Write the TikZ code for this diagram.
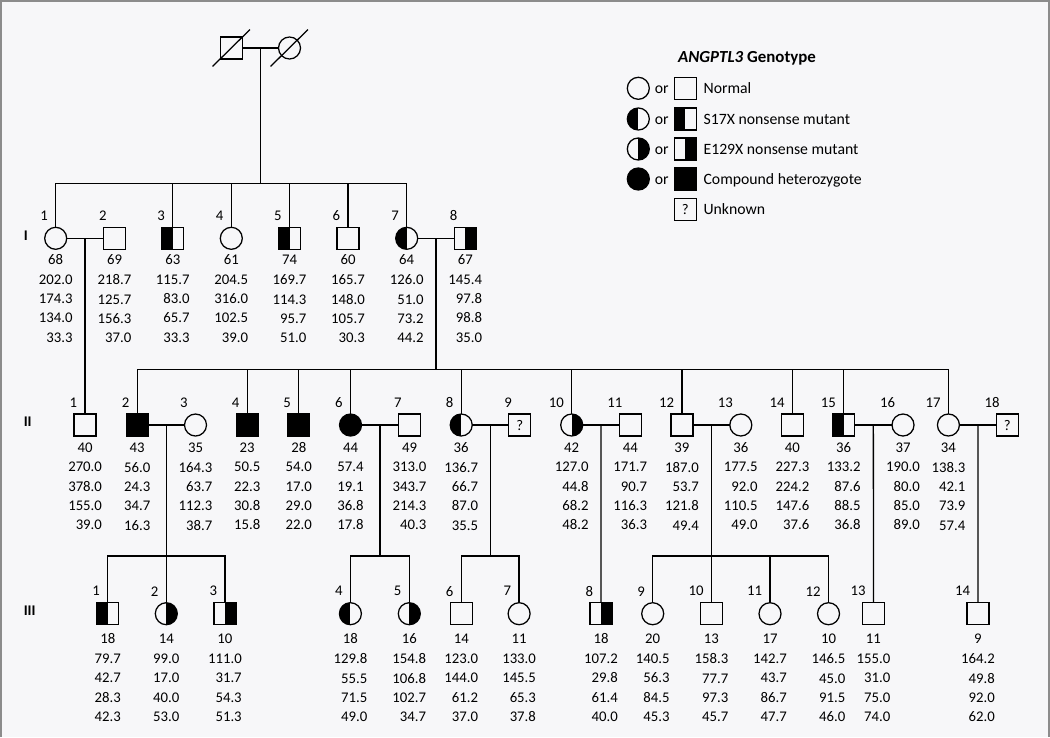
\documentclass[tikz,border=0pt]{standalone}
\usepackage{fontspec}
\setmainfont{Carlito}
\usetikzlibrary{calc}
\definecolor{bgc}{HTML}{F7F7F9}
\definecolor{frm}{HTML}{8C8C8C}
\tikzset{
  sym/.style={draw, line width=0.9pt, inner sep=0pt, minimum size=0.55cm},
  mal/.style={sym, rectangle},
  fem/.style={sym, circle},
  hl/.style={path picture={\fill (path picture bounding box.south west) rectangle (path picture bounding box.north);}},
  hr/.style={path picture={\fill (path picture bounding box.south) rectangle (path picture bounding box.north east);}},
  mN/.style={mal}, fN/.style={fem},
  mS/.style={mal,hl}, fS/.style={fem,hl},
  mE/.style={mal,hr}, fE/.style={fem,hr},
  mC/.style={mal,fill=black}, fC/.style={fem,fill=black},
  txt/.style={inner sep=0pt, font=\fontsize{10.5}{13.7}\selectfont},
  lgd/.style={inner sep=0pt, font=\fontsize{11.2}{13.7}\selectfont},
  mU/.style={mal, txt},
  vals/.style={txt, align=right, anchor=north},
  ln/.style={line width=0.9pt, line cap=rect},
}

\begin{document}
\begin{tikzpicture}[x=0.025cm, y=-0.025cm]
\useasboundingbox (0,0) rectangle (1050,737);
\fill[bgc] (0,0) rectangle (1050,737);
\draw[frm, line width=1.7pt] (1.2,737) -- (1.2,1.2) -- (1048.8,1.2) -- (1048.8,737);

% legend
\node[lgd, font=\fontsize{12}{14}\selectfont\bfseries] (lgT) at (747,58.3) {\textit{ANGPTL3} Genotype};
\foreach \r/\y/\cs/\ss/\t in {1/88.3/fN/mN/Normal, 2/119/fS/mS/S17X nonsense mutant, 3/149/fE/mE/E129X nonsense mutant, 4/179/fC/mC/Compound heterozygote}{
  \node[\cs] (lgc\r) at (638.3,\y) {};
  \node[lgd, anchor=base] (lgo\r) at (661.7,\y+5) {or};
  \node[\ss] (lgs\r) at (685.3,\y) {};
  \node[lgd, anchor=base west] (lgt\r) at (703.3,\y+5) {\t};
}
\node[mU] (lgs5) at (685.3,209.3) {?};
\node[lgd, anchor=base west] (lgt5) at (703.3,214.3) {Unknown};

% generations
\node[txt, font=\fontsize{10.5}{13.7}\selectfont\bfseries, anchor=west] (gI) at (23.5,236) {I};
\node[txt, font=\fontsize{10.5}{13.7}\selectfont\bfseries, anchor=west] (gII) at (23.5,422) {II};
\node[txt, font=\fontsize{10.5}{13.7}\selectfont\bfseries, anchor=west] (gIII) at (23.5,611) {III};

% grandparents
\node[mN] (GPm) at (231.5,48) {};
\node[fN] (GPf) at (289.5,48) {};
\draw[ln] ([shift={(-18.5,18)}]GPm.center) -- ([shift={(18,-18)}]GPm.center);
\draw[ln] ([shift={(-18.5,18)}]GPf.center) -- ([shift={(18,-18)}]GPf.center);

% generation I
\foreach \id/\x/\st/\nr/\ag/\va/\vb/\vc/\vd in {
  I1/55.7/fN/1/68/202.0/174.3/134.0/33.3,
  I2/114.5/mN/2/69/218.7/125.7/156.3/37.0,
  I3/172.8/mS/3/63/115.7/83.0/65.7/33.3,
  I4/231.3/fN/4/61/204.5/316.0/102.5/39.0,
  I5/289.5/mS/5/74/169.7/114.3/95.7/51.0,
  I6/348.0/mN/6/60/165.7/148.0/105.7/30.3,
  I7/406.7/fS/7/64/126.0/51.0/73.2/44.2,
  I8/465.3/mE/8/67/145.4/97.8/98.8/35.0}{
  \node[\st] (\id) at (\x,238.3) {};
  \node[txt, anchor=east] (n\id) at ([shift={(4,-22.5)}]\id.west) {\nr};
  \node[txt] (a\id) at (\x,260) {\ag};
  \node[vals] (v\id) at (\x,274.6) {\va\\\vb\\\vc\\\vd};
}

% generation II
\foreach \id/\x/\st/\nr/\ag/\va/\vb/\vc/\vd in {
  II1/85.1/mN/1/40/270.0/378.0/155.0/39.0,
  II2/137.2/mC/2/43/56.0/24.3/34.7/16.3,
  II3/195.5/fN/3/35/164.3/63.7/112.3/38.7,
  II4/247.2/mC/4/23/50.5/22.3/30.8/15.8,
  II5/298.8/mC/5/28/54.0/17.0/29.0/22.0,
  II6/350.5/fC/6/44/57.4/19.1/36.8/17.8,
  II7/409.5/mN/7/49/313.0/343.7/214.3/40.3,
  II8/461.2/fS/8/36/136.7/66.7/87.0/35.5,
  II10/571.7/fE/10/42/127.0/44.8/68.2/48.2,
  II11/630.3/mN/11/44/171.7/90.7/116.3/36.3,
  II12/681.9/mN/12/39/187.0/53.7/121.8/49.4,
  II13/740.8/fN/13/36/177.5/92.0/110.5/49.0,
  II14/792.4/mN/14/40/227.3/224.2/147.6/37.6,
  II15/843.7/mS/15/36/133.2/87.6/88.5/36.8,
  II16/903.0/fN/16/37/190.0/80.0/85.0/89.0,
  II17/948.4/fN/17/34/138.3/42.1/73.9/57.4}{
  \node[\st] (\id) at (\x,425) {};
  \node[txt, anchor=east] (n\id) at ([shift={(4,-22.5)}]\id.west) {\nr};
  \node[txt] (a\id) at (\x,447.7) {\ag};
  \node[vals] (v\id) at (\x,462) {\va\\\vb\\\vc\\\vd};
}
\foreach \id/\x/\nr in {II9/519.8/9, II18/1007.4/18}{
  \node[mU] (\id) at (\x,425) {?};
  \node[txt, anchor=east] (n\id) at ([shift={(4,-22.5)}]\id.west) {\nr};
}

% generation III
\foreach \id/\x/\st/\nr/\ag/\va/\vb/\vc/\vd in {
  III1/107.8/mS/1/18/79.7/42.7/28.3/42.3,
  III2/166.3/fE/2/14/99.0/17.0/40.0/53.0,
  III3/224.9/mE/3/10/111.0/31.7/54.3/51.3,
  III4/350.4/fS/4/18/129.8/55.5/71.5/49.0,
  III5/409.3/fE/5/16/154.8/106.8/102.7/34.7,
  III6/461.3/mN/6/14/123.0/144.0/61.2/37.0,
  III7/519.1/fN/7/11/133.0/145.5/65.3/37.8,
  III8/601.0/mE/8/18/107.2/29.8/61.4/40.0,
  III9/652.7/fN/9/20/140.5/56.3/84.5/45.3,
  III10/711.4/mN/10/13/158.3/77.7/97.3/45.7,
  III11/770.0/fN/11/17/142.7/43.7/86.7/47.7,
  III12/828.5/fN/12/10/146.5/45.0/91.5/46.0,
  III13/873.4/mN/13/11/155.0/31.0/75.0/74.0,
  III14/977.9/mN/14/9/164.2/49.8/92.0/62.0}{
  \node[\st] (\id) at (\x,613.7) {};
  \node[txt, anchor=east] (n\id) at ([shift={(4,-22.5)}]\id.west) {\nr};
  \node[txt] (a\id) at (\x,638.3) {\ag};
  \node[vals] (v\id) at (\x,653.6) {\va\\\vb\\\vc\\\vd};
}

% sibship levels
\coordinate (sI) at (0,183.3);
\coordinate (sII) at (0,369.5);
\coordinate (sIII) at (0,556);

% marriages
\foreach \p/\q/\m in {GPm/GPf/mGP, I1/I2/mI12, I7/I8/mI78, II2/II3/mII23, II6/II7/mII67, II8/II9/mII89, II10/II11/mIIa, II12/II13/mIIb, II15/II16/mIIc, II17/II18/mIId}{
  \draw[ln] (\p) -- (\q);
  \coordinate (\m) at ($(\p)!0.5!(\q)$);
}

% descent
\draw[ln] (mGP) -- (mGP |- sI);
\draw[ln] (I1 |- sI) -- (I7 |- sI);
\foreach \c in {I1,I3,I4,I5,I6,I7} \draw[ln] (\c |- sI) -- (\c.north);

\draw[ln] (mI12) -- (II1.north);
\draw[ln] (mI78) -- (mI78 |- sII);
\draw[ln] (II2 |- sII) -- (II17 |- sII);
\foreach \c in {II2,II4,II5,II6,II8,II10,II12,II14,II15,II17} \draw[ln] (\c |- sII) -- (\c.north);

\foreach \m in {mII23,mII67,mII89,mIIb} \draw[ln] (\m) -- (\m |- sIII);
\draw[ln] (III1 |- sIII) -- (III3 |- sIII);
\draw[ln] (III4 |- sIII) -- (III5 |- sIII);
\draw[ln] (III6 |- sIII) -- (III7 |- sIII);
\draw[ln] (III9 |- sIII) -- (III12 |- sIII);
\foreach \c in {III1,III2,III3,III4,III5,III6,III7,III9,III10,III11,III12} \draw[ln] (\c |- sIII) -- (\c.north);
\draw[ln] (mIIa) -- (III8.north);
\draw[ln] (mIIc) -- (III13.north);
\draw[ln] (mIId) -- (III14.north);
\end{tikzpicture}
\end{document}
